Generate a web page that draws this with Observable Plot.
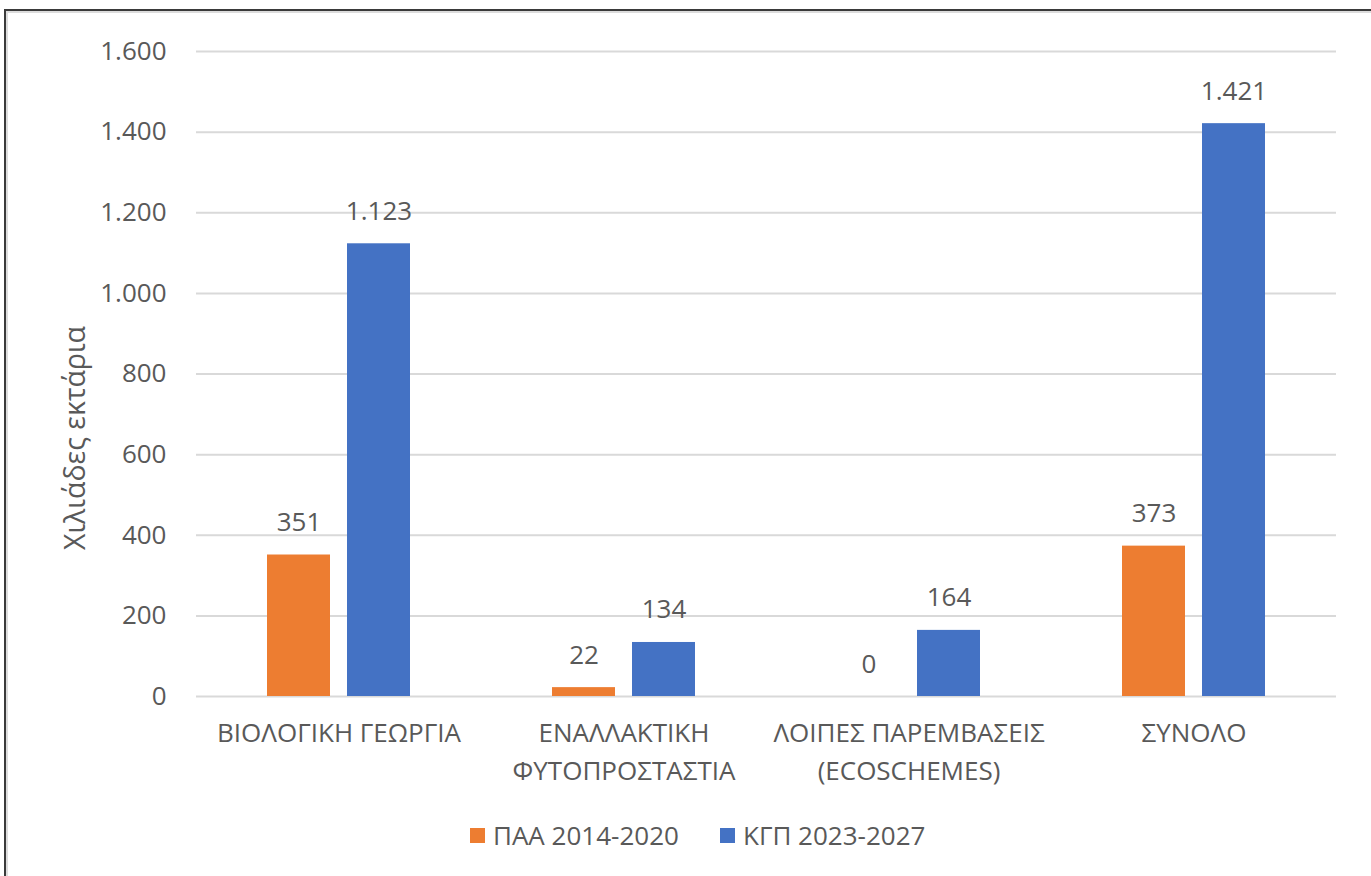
<!DOCTYPE html>
<html>
<head>
<meta charset="utf-8">
<script src="https://cdn.jsdelivr.net/npm/d3@7"></script>
<script src="https://cdn.jsdelivr.net/npm/@observablehq/plot@0.6"></script>
<style>
  html, body { margin: 0; padding: 0; background: #fff; overflow: hidden; width: 1371px; height: 876px; }
  #frame { position: absolute; left: 4px; top: 9px; width: 1400px; height: 900px; border-left: 2px solid #3a3a3a; border-top: 2px solid #3a3a3a; }
  #inner { position: absolute; left: 0; top: 0; width: 1400px; height: 900px; border-left: 2px solid #dcdcdc; border-top: 2px solid #dcdcdc; }
  #chart { position: absolute; left: 0; top: 0; }
  #legend { position: absolute; left: 0; top: 817px; width: 1400px; font-family: "Open Sans", "Noto Sans", sans-serif; font-size: 26px; color: #595959; }
  .item { position: absolute; display: flex; align-items: center; white-space: nowrap; }
  .sw { width: 15px; height: 15px; margin-right: 8px; }
</style>
</head>
<body>
<div id="frame"><div id="inner"></div></div>
<div id="chart"></div>
<div id="legend"></div>
<script>
const categories = ["ΒΙΟΛΟΓΙΚΗ ΓΕΩΡΓΙΑ", "ΕΝΑΛΛΑΚΤΙΚΗ\nΦΥΤΟΠΡΟΣΤΑΣΤΙΑ", "ΛΟΙΠΕΣ ΠΑΡΕΜΒΑΣΕΙΣ\n(ECOSCHEMES)", "ΣΥΝΟΛΟ"];
const series = ["ΠΑΑ 2014-2020", "ΚΓΠ 2023-2027"];
const paa = [351, 22, 0, 373];
const kgp = [1123, 134, 164, 1421];
const yTicks = [0, 200, 400, 600, 800, 1000, 1200, 1400, 1600];
const colors = ["#ED7D31", "#4472C4"];
const yLabel = "Χιλιάδες εκτάρια";

const data = [];
categories.forEach((c, i) => {
  data.push({cat: c, s: series[0], v: paa[i]});
  data.push({cat: c, s: series[1], v: kgp[i]});
});

const locale = d3.formatLocale({decimal: ",", thousands: ".", grouping: [3], currency: ["", "€"]});
const fmt = locale.format(",d");

const plot = Plot.plot({
  width: 1371,
  height: 800,
  marginLeft: 195,
  marginRight: 34,
  marginTop: 51,
  marginBottom: 104,
  style: {fontFamily: "'Open Sans', 'Noto Sans', sans-serif", fontSize: "26px", color: "#595959", background: "transparent"},
  fx: {domain: categories, padding: 0, label: null, axis: null},
  x: {domain: series, paddingInner: 0.21, paddingOuter: 0.867, axis: null},
  y: {domain: [0, 1600], label: null, axis: null},
  color: {domain: series, range: colors},
  marks: [
    Plot.gridY(yTicks, {stroke: "#d9d9d9", strokeOpacity: 1, strokeWidth: 2}),
    Plot.axisY(yTicks, {tickSize: 0, tickPadding: 30, tickFormat: fmt, fontSize: 26, fill: "#595959", label: null}),
    Plot.axisFx({anchor: "bottom", tickSize: 0, tickPadding: 19, lineHeight: 1.46, fontSize: 26, fill: "#595959", label: null}),
    Plot.barY(data, {fx: "cat", x: "s", y: "v", fill: "s"}),
    Plot.text(data, {fx: "cat", x: "s", y: "v", text: d => fmt(d.v), lineAnchor: "bottom", dy: -24, fontSize: 26, fill: "#595959"}),
    Plot.text([yLabel], {facet: "super", frameAnchor: "left", textAnchor: "middle", text: d => d, rotate: -90, dx: -121, dy: 64, fontSize: 28.5, fill: "#595959"})
  ]
});
document.getElementById("chart").appendChild(plot);

const legend = document.getElementById("legend");
const lx = [470, 720];
series.forEach((s, i) => {
  const it = document.createElement("div");
  it.className = "item";
  it.style.left = lx[i] + "px";
  const sw = document.createElement("div");
  sw.className = "sw";
  sw.style.background = colors[i];
  const t = document.createElement("span");
  t.textContent = s;
  it.appendChild(sw);
  it.appendChild(t);
  legend.appendChild(it);
});
</script>
</body>
</html>
